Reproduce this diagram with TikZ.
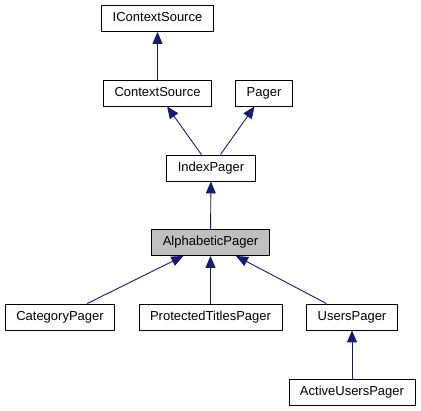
\documentclass[tikz,border=0pt]{standalone}
\usepackage{fontspec}
\setmainfont{Liberation Sans}
\usetikzlibrary{arrows.meta,positioning}
\definecolor{navy}{HTML}{191970}
\tikzset{
    %Define standard arrow tip
    >={Triangle[length=12pt,width=10pt]},
    %Define style for boxes
    klasse/.style={
           rectangle,
           draw=black, line width=0.9pt,
           inner xsep=11pt,
           minimum height=26pt,
           text height=9.5pt,
           text depth=2.5pt,
           font=\fontsize{13}{15}\selectfont,
           text centered},
    aktuell/.style={
           klasse,
           fill=black!25!white},
    % Define arrow style
    pil/.style={
           ->,
           draw=navy,
           line width=0.9pt}
}
\begin{document}
\begin{tikzpicture}[x=1pt,y=-1pt]
\useasboundingbox (0,0) rectangle (421,411);
 %nodes
\node[klasse](1) at (157.5,18.5){IContextSource};
\node[klasse](2) at (157.5,93){ContextSource};
\node[klasse](3) at (264,93){Pager};
\node[klasse](4) at (211,168){IndexPager};
\node[aktuell](5) at (210.5,242.5){AlphabeticPager};
\node[klasse](6) at (60,317){CategoryPager};
\node[klasse](7) at (210.5,317){ProtectedTitlesPager};
\node[klasse](8) at (352,317){UsersPager};
\node[klasse](9) at (352,392.5){ActiveUsersPager};

 \path
    (2) edge[pil] (1)
    (4) edge[pil] (2)
    (4) edge[pil] (3)
    (5) edge[pil] (4)
    (6) edge[pil] (5)
    (7) edge[pil] (5)
    (8) edge[pil] (5)
    (9) edge[pil] (8);
\end{tikzpicture}
\end{document}
